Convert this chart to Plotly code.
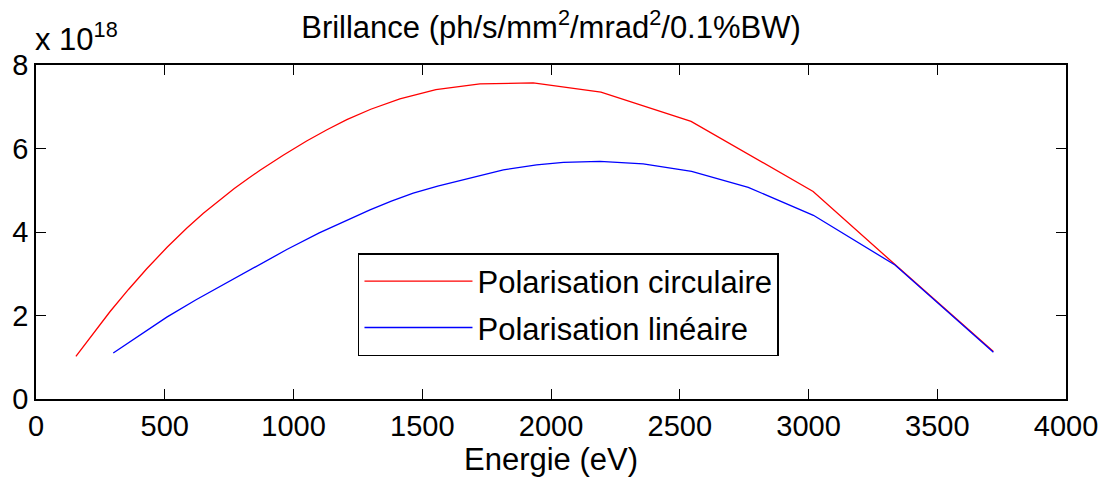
import plotly.graph_objects as go

# Energies (eV) and brilliance (x 1e18 ph/s/mm2/mrad2/0.1%BW)
energy_circ = [155, 220, 287, 360, 430, 510, 585, 650, 715, 770, 824, 870, 960, 1051,
               1130, 1207, 1300, 1413, 1553, 1724, 1931, 2194, 2544, 3018, 3336, 3718]
brill_circ = [1.02, 1.56, 2.09, 2.63, 3.12, 3.64, 4.09, 4.45, 4.78, 5.04, 5.28, 5.48, 5.84, 6.18,
              6.45, 6.69, 6.94, 7.19, 7.41, 7.55, 7.57, 7.35, 6.65, 4.97, 3.22, 1.14]

energy_lin = [300, 400, 508, 620, 741, 860, 974, 1100, 1219, 1297, 1380, 1465, 1560, 1660,
              1815, 1944, 2048, 2190, 2358, 2546, 2766, 3019, 3336, 3718]
brill_lin = [1.10, 1.52, 1.96, 2.37, 2.79, 3.19, 3.58, 3.98, 4.32, 4.53, 4.74, 4.93, 5.10, 5.26,
             5.49, 5.61, 5.67, 5.69, 5.63, 5.45, 5.07, 4.40, 3.21, 1.12]

x_ticks = [0, 500, 1000, 1500, 2000, 2500, 3000, 3500, 4000]
y_ticks = [0, 2, 4, 6, 8]

FONT = "Liberation Sans, Arial, Helvetica, sans-serif"
FS_TICK = 29
FS = 31

fig = go.Figure()
fig.add_trace(go.Scatter(x=energy_circ, y=brill_circ, mode="lines",
                         name="Polarisation circulaire", legendgroup="c",
                         line=dict(color="#ff0000", width=1.3)))
fig.add_trace(go.Scatter(x=energy_lin, y=brill_lin, mode="lines",
                         name="Polarisation linéaire", legendgroup="l",
                         line=dict(color="#0000ff", width=1.3)))

axis_common = dict(showline=True, linecolor="black", linewidth=1.5, mirror="ticks",
                   ticks="inside", ticklen=10, tickcolor="black", tickwidth=1.2,
                   showgrid=False, zeroline=False, automargin=False,
                   tickfont=dict(size=FS_TICK, color="black", family=FONT))

fig.update_xaxes(range=[0, 4000], tickvals=x_ticks, ticktext=[str(v) for v in x_ticks],
                 title=dict(text="Energie (eV)", font=dict(size=FS, color="black", family=FONT),
                            standoff=2),
                 **axis_common)
fig.update_yaxes(range=[0, 8], tickvals=y_ticks, ticktext=[str(v) for v in y_ticks],
                 **axis_common)

# the page body has an 8px margin, so the figure is sized/offset to compensate
fig.update_layout(
    width=1098, height=473,
    margin=dict(l=28, r=40, t=57, b=82),
    paper_bgcolor="white", plot_bgcolor="white",
    font=dict(family=FONT, color="black", size=FS),
    title=dict(text="Brillance (ph/s/mm<sup>2</sup>/mrad<sup>2</sup>/0.1%BW)",
               x=0.5, xref="paper", xanchor="center", y=1 - 8 / 473, yanchor="top",
               font=dict(size=FS, color="black", family=FONT)),
    legend=dict(x=0.3126, y=0.437, xanchor="left", yanchor="top",
                bordercolor="black", borderwidth=1.5, bgcolor="white",
                font=dict(size=FS, color="black", family=FONT),
                itemwidth=108, tracegroupgap=3),
    annotations=[dict(text="x 10<sup>18</sup>", xref="paper", yref="paper",
                      x=0, y=1, xanchor="left", yanchor="bottom", yshift=6, xshift=-3,
                      showarrow=False, font=dict(size=FS, color="black", family=FONT))],
)

fig.write_html("out.html")
